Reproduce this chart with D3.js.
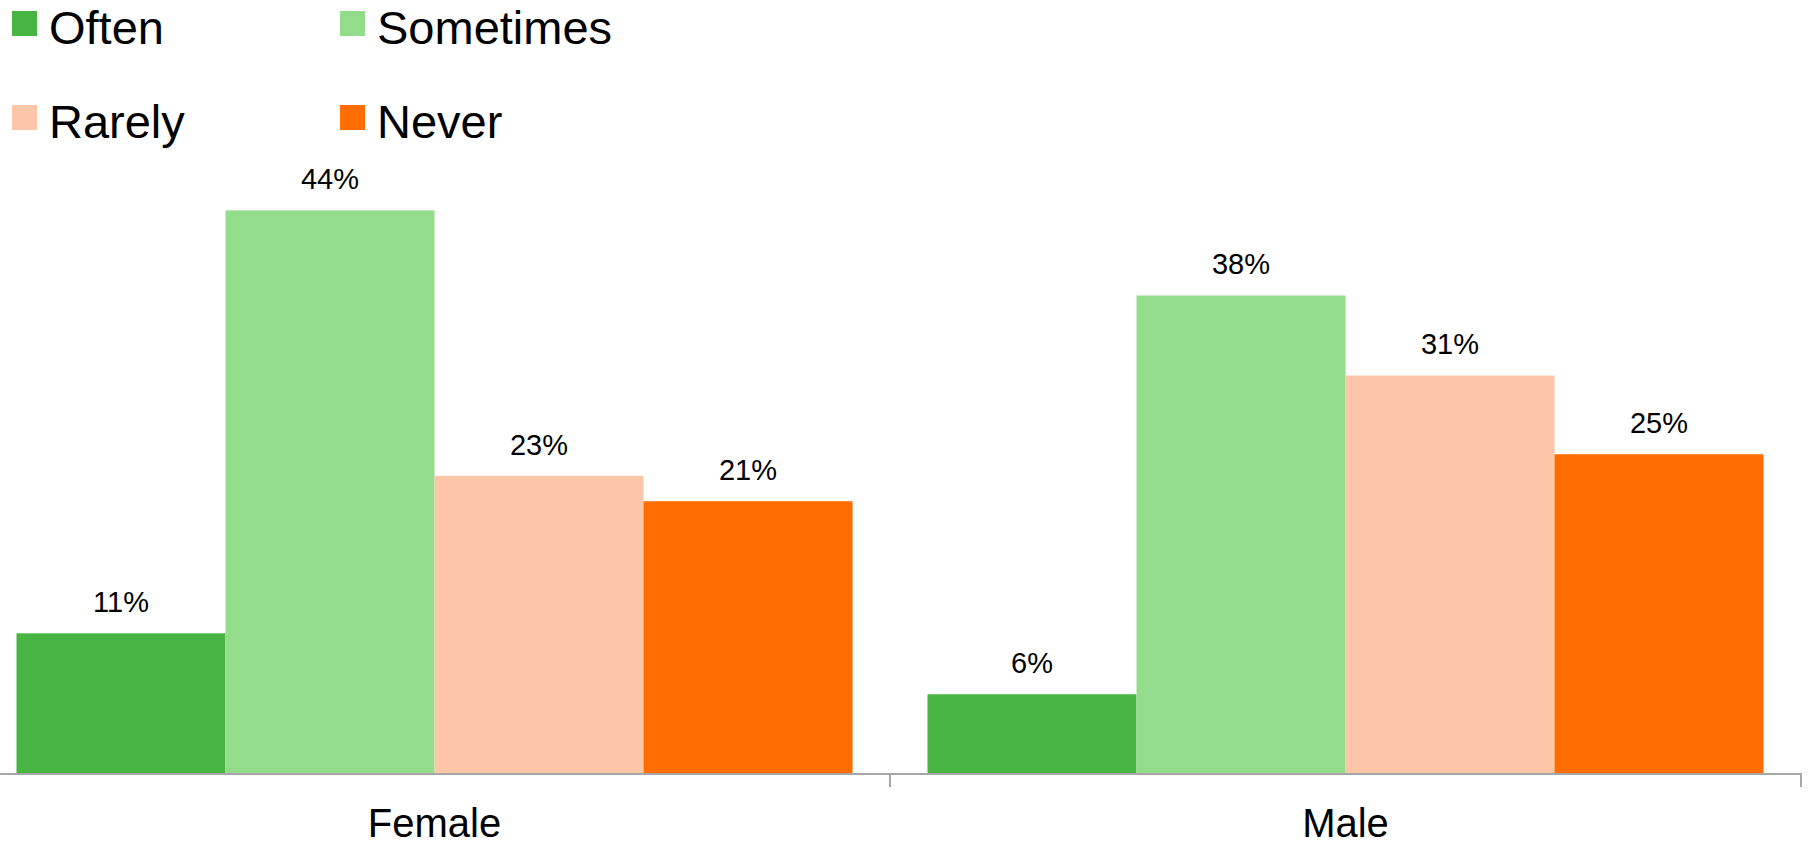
<!DOCTYPE html>
<html>
<head>
<meta charset="utf-8">
<script src="https://cdn.jsdelivr.net/npm/d3@7"></script>
<style>
  html, body { margin: 0; padding: 0; background: #fff; }
  svg { display: block; font-family: "Liberation Sans", Arial, sans-serif; }
</style>
</head>
<body>
<svg id="chart" width="1812" height="846"></svg>
<script>
const categories = ["Female", "Male"];
const seriesNames = ["Often", "Sometimes", "Rarely", "Never"];
const seriesColors = ["#48b543", "#93dc8c", "#fdc6a8", "#ff6c00"];
// values; labels show rounded percentages
const often = [11.0, 6.2];
const sometimes = [44.3, 37.6];
const rarely = [23.4, 31.3];
const never = [21.4, 25.1];
const seriesValues = [often, sometimes, rarely, never];

const svg = d3.select("#chart");
const baseY = 773;

const x0 = d3.scaleBand().domain(categories).range([-21, 1801]).paddingInner(0).paddingOuter(0);
const groupPad = 37.5;
const x1 = d3.scaleBand().domain(seriesNames).range([groupPad, x0.bandwidth() - groupPad]).padding(0);
const y = d3.scaleLinear().domain([0, 50]).range([baseY, baseY - 50 * 12.7]);

const data = [];
categories.forEach((c, ci) => {
  seriesNames.forEach((s, si) => {
    data.push({ cat: c, series: s, value: seriesValues[si][ci], color: seriesColors[si] });
  });
});

// bars
svg.append("g").selectAll("rect").data(data).enter().append("rect")
  .attr("x", d => x0(d.cat) + x1(d.series))
  .attr("y", d => y(d.value))
  .attr("width", x1.bandwidth())
  .attr("height", d => y(0) - y(d.value))
  .attr("fill", d => d.color);

// value labels
svg.append("g").selectAll("text").data(data).enter().append("text")
  .attr("x", d => x0(d.cat) + x1(d.series) + x1.bandwidth() / 2)
  .attr("y", d => y(d.value) - 21)
  .attr("text-anchor", "middle")
  .attr("font-size", 29)
  .attr("fill", "#000")
  .text(d => Math.round(d.value) + "%");

// axis
const axisG = svg.append("g").attr("transform", `translate(0,${baseY})`);
axisG.append("line")
  .attr("x1", 0).attr("x2", x0.range()[1])
  .attr("y1", 1).attr("y2", 1)
  .attr("stroke", "#a6a6a6").attr("stroke-width", 2);
const tickXs = categories.slice(1).map(c => x0(c)).concat([x0.range()[1]]);
axisG.selectAll("line.tick").data(tickXs).enter().append("line")
  .attr("class", "tick")
  .attr("x1", d => d).attr("x2", d => d)
  .attr("y1", 0).attr("y2", 14)
  .attr("stroke", "#a6a6a6").attr("stroke-width", 2);
axisG.selectAll("text").data(categories).enter().append("text")
  .attr("x", d => x0(d) + x0.bandwidth() / 2)
  .attr("y", 64)
  .attr("text-anchor", "middle")
  .attr("font-size", 40)
  .attr("fill", "#000")
  .text(d => d);

// legend
const legendPos = [[12, 11], [340, 11], [12, 105], [340, 105]];
const lg = svg.append("g").selectAll("g").data(seriesNames).enter().append("g")
  .attr("transform", (d, i) => `translate(${legendPos[i][0]},${legendPos[i][1]})`);
lg.append("rect").attr("width", 25).attr("height", 25)
  .attr("fill", (d, i) => seriesColors[i]);
lg.append("text").attr("x", 37).attr("y", 33)
  .attr("font-size", 47).attr("fill", "#000")
  .text(d => d);
</script>
</body>
</html>
